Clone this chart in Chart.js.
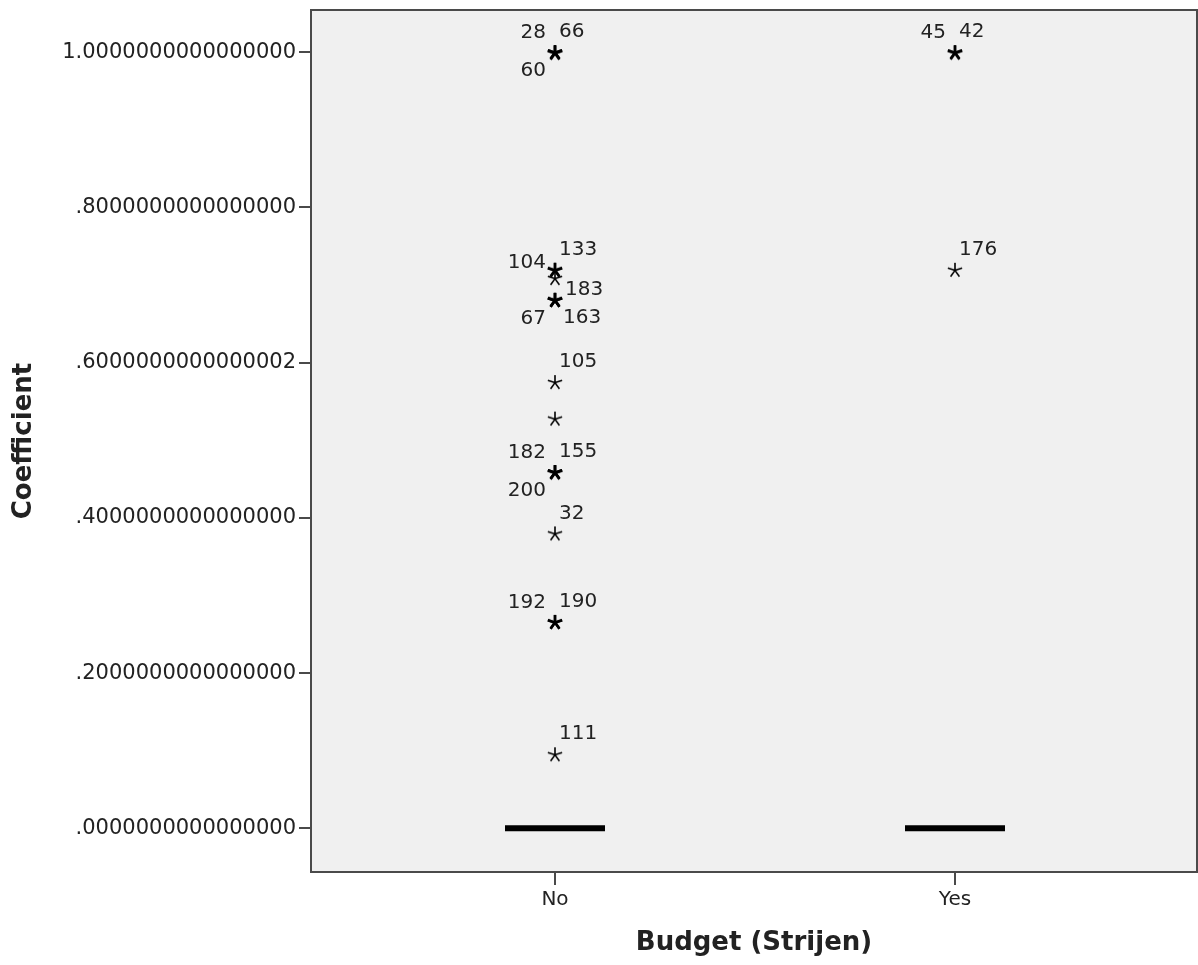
<!DOCTYPE html>
<html>
<head>
<meta charset="utf-8">
<title>Coefficient by Budget (Strijen)</title>
<script src="https://cdn.jsdelivr.net/npm/chart.js@4/dist/chart.umd.min.js"></script>
<style>
  html, body { margin: 0; padding: 0; background: #ffffff; }
  canvas { display: block; }
</style>
</head>
<body>
<canvas id="chart" width="1198" height="965"></canvas>
<script>
// Groups on the horizontal axis
const categories = ['No', 'Yes'];

// Medians of each group (the boxes collapse onto the median)
const medians = [0, 0];

// Extreme values (drawn as stars) and their case numbers, per group
const extremeValuesNo = [1.0, 1.0, 1.0, 0.7197, 0.7197, 0.709, 0.681, 0.681, 0.681,
                         0.575, 0.528, 0.459, 0.459, 0.459, 0.380, 0.266, 0.266, 0.0954];
const extremeCasesNo  = [28, 66, 60, 104, 133, null, 183, 67, 163,
                         105, null, 182, 155, 200, 32, 192, 190, 111];
const extremeValuesYes = [1.0, 1.0, 0.7197];
const extremeCasesYes  = [45, 42, 176];

// Value axis ticks and their printed labels
const yTickValues = [0, 0.2, 0.4, 0.6, 0.8, 1.0];
const yTickLabels = ['.0000000000000000', '.2000000000000000', '.4000000000000000',
                     '.6000000000000002', '.8000000000000000', '1.0000000000000000'];

// Where each case label sits around its star
const labelAnchor = {
  28: 'ul', 66: 'ur', 60: 'll', 104: 'l', 133: 'ur', 183: 'r', 67: 'll', 163: 'lr',
  105: 'ur', 182: 'ul', 155: 'ur', 200: 'll', 32: 'ur', 192: 'ul', 190: 'ur', 111: 'ur',
  45: 'ul', 42: 'ur', 176: 'ur'
};
const anchorOffsets = {
  ur: { dx: 4,   dy: -20, align: 'left'  },
  ul: { dx: -9,  dy: -19, align: 'right' },
  ll: { dx: -9,  dy: 19,  align: 'right' },
  lr: { dx: 8,   dy: 18,  align: 'left'  },
  l:  { dx: -9,  dy: -7,  align: 'right' },
  r:  { dx: 10,  dy: -10, align: 'left'  }
};

const FONT = "'DejaVu Sans', Verdana, sans-serif";
const INK = '#222222';
const FRAME = '#4a4a4a';

// Five-armed asterisk used as the extreme-value marker
function makeStar(lineWidth) {
  const size = 22;
  const c = document.createElement('canvas');
  c.width = size; c.height = size;
  const g = c.getContext('2d');
  const cx = size / 2, cy = size / 2 + 0.6, r = 7.5;
  g.strokeStyle = '#000000';
  g.lineWidth = lineWidth;
  g.lineCap = 'butt';
  g.beginPath();
  for (let k = 0; k < 5; k++) {
    const a = -Math.PI / 2 + k * 2 * Math.PI / 5;
    g.moveTo(cx, cy);
    g.lineTo(cx + r * Math.cos(a), cy + r * Math.sin(a));
  }
  g.stroke();
  return c;
}
const thinStar = makeStar(1.6);
const boldStar = makeStar(2.5);

// Flatten the per-group extreme values into scatter points
const groupValues = [extremeValuesNo, extremeValuesYes];
const groupCases = [extremeCasesNo, extremeCasesYes];
const starPoints = [];
const starCases = [];
const starStacked = [];
groupValues.forEach((vals, gi) => {
  vals.forEach((v, i) => {
    starPoints.push({ x: gi, y: v });
    starCases.push(groupCases[gi][i]);
    starStacked.push(vals.filter(w => w === v).length > 1);
  });
});

// Median bars: one short line per group
const MEDIAN_HALF = 0.125;
const medianDatasets = categories.map((cat, i) => ({
  type: 'line',
  label: 'Median ' + cat,
  data: [{ x: i - MEDIAN_HALF, y: medians[i] }, { x: i + MEDIAN_HALF, y: medians[i] }],
  borderColor: '#000000',
  borderWidth: 6,
  borderCapStyle: 'butt',
  pointRadius: 0,
  fill: false
}));

// Plot frame with light grey fill
const framePlugin = {
  id: 'frame',
  beforeDatasetsDraw(chart) {
    const { ctx, chartArea: a } = chart;
    ctx.save();
    ctx.fillStyle = '#f0f0f0';
    ctx.fillRect(a.left, a.top, a.right - a.left, a.bottom - a.top);
    ctx.restore();
  },
  afterDatasetsDraw(chart) {
    const { ctx, chartArea: a } = chart;
    ctx.save();
    ctx.strokeStyle = FRAME;
    ctx.lineWidth = 2;
    ctx.strokeRect(a.left, a.top, a.right - a.left, a.bottom - a.top);
    ctx.restore();
  }
};

// Case-number labels beside the stars
const caseLabelPlugin = {
  id: 'caseLabels',
  afterDatasetsDraw(chart) {
    const idx = chart.data.datasets.findIndex(d => d.label === 'Extremes');
    const meta = chart.getDatasetMeta(idx);
    const ctx = chart.ctx;
    ctx.save();
    ctx.font = '20px ' + FONT;
    ctx.fillStyle = INK;
    ctx.textBaseline = 'middle';
    meta.data.forEach((pt, i) => {
      const id = starCases[i];
      if (id === null) return;
      const o = anchorOffsets[labelAnchor[id] || 'ur'];
      ctx.textAlign = o.align;
      ctx.fillText(String(id), pt.x + o.dx, pt.y + o.dy);
    });
    ctx.restore();
  }
};

// Fixed axis boxes, without the extra room Chart.js keeps for edge labels
function fixBox(s, size) {
  if (s.isHorizontal()) s.height = size; else s.width = size;
  s.paddingTop = 0; s.paddingBottom = 0; s.paddingLeft = 0; s.paddingRight = 0;
}

new Chart(document.getElementById('chart'), {
  type: 'scatter',
  data: {
    datasets: [
      ...medianDatasets,
      {
        label: 'Extremes',
        data: starPoints,
        pointStyle: ctx => (starStacked[ctx.dataIndex] ? boldStar : thinStar),
        pointRadius: 7,
        showLine: false
      }
    ]
  },
  options: {
    responsive: false,
    animation: false,
    devicePixelRatio: 1,
    layout: { autoPadding: false, padding: { left: 0, top: 10, right: 1, bottom: 0 } },
    plugins: { legend: { display: false }, tooltip: { enabled: false } },
    scales: {
      x: {
        type: 'linear',
        min: -0.61,
        max: 1.605,
        afterBuildTicks: s => { s.ticks = categories.map((c, i) => ({ value: i })); },
        afterFit: s => fixBox(s, 93),
        ticks: {
          callback: v => categories[v],
          font: { family: FONT, size: 20 },
          color: INK,
          padding: 3,
          maxRotation: 0,
          autoSkip: false
        },
        grid: { drawOnChartArea: false, tickLength: 13, color: FRAME, lineWidth: 2 },
        border: { display: false },
        title: {
          display: true,
          text: 'Budget (Strijen)',
          font: { family: FONT, size: 26, weight: 'bold' },
          color: INK,
          padding: { top: 0, bottom: 6 }
        }
      },
      y: {
        type: 'linear',
        min: -0.0563,
        max: 1.0545,
        afterBuildTicks: s => { s.ticks = yTickValues.map(v => ({ value: v })); },
        afterFit: s => fixBox(s, 311),
        ticks: {
          callback: v => yTickLabels[yTickValues.indexOf(v)],
          font: { family: FONT, size: 21 },
          color: INK,
          padding: 3,
          autoSkip: false
        },
        grid: { drawOnChartArea: false, tickLength: 12, color: FRAME, lineWidth: 2 },
        border: { display: false },
        title: {
          display: true,
          text: 'Coefficient',
          font: { family: FONT, size: 26, weight: 'bold' },
          color: INK,
          padding: { top: 9, bottom: 0 }
        }
      }
    }
  },
  plugins: [framePlugin, caseLabelPlugin]
});
</script>
</body>
</html>
